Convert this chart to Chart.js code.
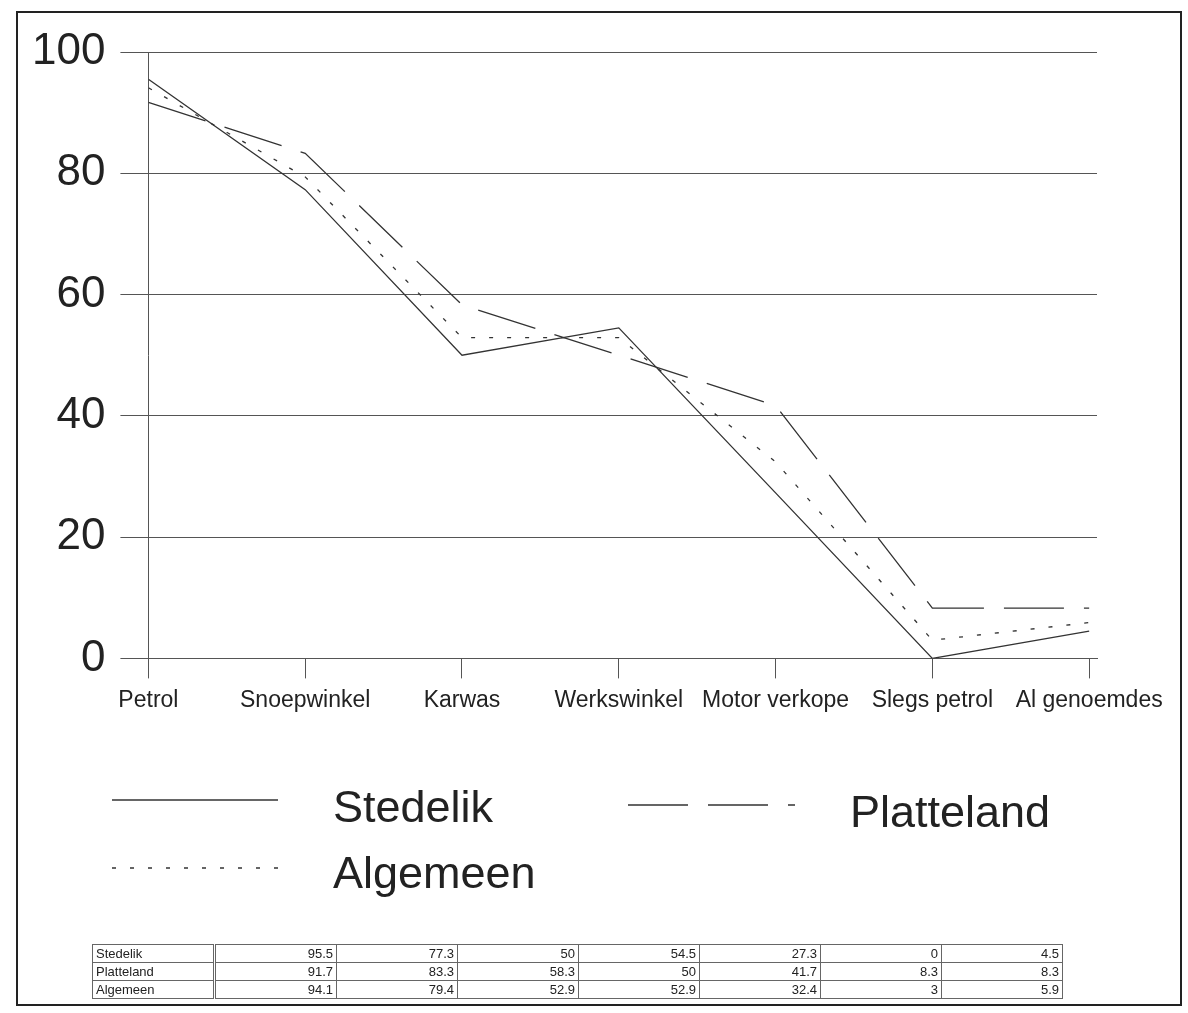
<!DOCTYPE html>
<html>
<head>
<meta charset="utf-8">
<script src="https://cdn.jsdelivr.net/npm/chart.js@4"></script>
<style>
  html, body { margin: 0; padding: 0; background: #fff; }
  body { width: 1188px; height: 1013px; position: relative; overflow: hidden; font-family: 'Liberation Sans', Arial, sans-serif; color: #222; }
  #frame { position: absolute; left: 16px; top: 11px; width: 1162px; height: 991px; border: 2px solid #222; }
  #chartBox { position: absolute; left: 0; top: 0; width: 1188px; height: 722px; }
  #legend { position: absolute; left: 0; top: 0; }
  #dataTable { position: absolute; left: 92px; top: 944px; border-collapse: collapse; font-size: 13px; color: #222; }
  #dataTable td { border: 1px solid #666; height: 17px; padding: 0 3px; line-height: 17px; }
  #dataTable td.name { width: 114px; text-align: left; border-right: 3px double #666; }
  #dataTable td.num { width: 114px; text-align: right; }
</style>
</head>
<body>
<div id="frame"></div>
<div id="chartBox"><canvas id="lineChart"></canvas></div>
<svg id="legend" width="1188" height="1013"></svg>
<table id="dataTable"></table>
<script>
  const categories = ['Petrol', 'Snoepwinkel', 'Karwas', 'Werkswinkel', 'Motor verkope', 'Slegs petrol', 'Al genoemdes'];
  const stedelik = [95.5, 77.3, 50, 54.5, 27.3, 0, 4.5];
  const platteland = [91.7, 83.3, 58.3, 50, 41.7, 8.3, 8.3];
  const algemeen = [94.1, 79.4, 52.9, 52.9, 32.4, 3, 5.9];
  const yTicks = [0, 20, 40, 60, 80, 100];

  const lineColor = '#333';
  const fontFamily = "'Liberation Sans', Arial, sans-serif";

  const series = [
    { label: 'Stedelik', values: stedelik, dash: [] },
    { label: 'Platteland', values: platteland, dash: [60, 20] },
    { label: 'Algemeen', values: algemeen, dash: [4, 14] }
  ];

  new Chart(document.getElementById('lineChart'), {
    type: 'line',
    data: {
      datasets: series.map((s) => ({
        label: s.label,
        data: s.values.map((v, i) => ({ x: i, y: v })),
        borderColor: lineColor,
        borderWidth: 1.3,
        borderDash: s.dash,
        pointRadius: 0,
        tension: 0,
        fill: false
      }))
    },
    options: {
      responsive: true,
      maintainAspectRatio: false,
      animation: false,
      layout: { padding: { left: 17, right: 91, top: 52, bottom: 0 } },
      plugins: {
        legend: { display: false },
        tooltip: { enabled: false }
      },
      scales: {
        x: {
          type: 'linear',
          min: 0,
          max: 6.05,
          afterBuildTicks: (scale) => { scale.ticks = categories.map((c, i) => ({ value: i })); },
          ticks: {
            autoSkip: false,
            maxRotation: 0,
            padding: 8,
            color: '#222',
            font: { family: fontFamily, size: 23 },
            callback: (v) => categories[v]
          },
          grid: {
            drawOnChartArea: false,
            drawTicks: true,
            tickLength: 20,
            color: '#555'
          },
          border: { display: true, color: '#555' }
        },
        y: {
          min: 0,
          max: 100,
          afterBuildTicks: (scale) => { scale.ticks = yTicks.map((v) => ({ value: v })); },
          ticks: {
            padding: 15,
            color: '#222',
            font: { family: fontFamily, size: 44 }
          },
          grid: {
            color: '#555',
            lineWidth: 1,
            tickLength: 28
          },
          border: { display: true, color: '#555' }
        }
      }
    }
  });

  // legend, laid out like the original page
  const legendSpots = [
    { x1: 112, x2: 278, y: 800, tx: 333, ty: 822 },
    { x1: 628, x2: 795, y: 805, tx: 850, ty: 827 },
    { x1: 112, x2: 278, y: 868, tx: 333, ty: 888 }
  ];
  const svg = document.getElementById('legend');
  let legendHtml = '';
  series.forEach((s, i) => {
    const p = legendSpots[i];
    legendHtml += `<line x1="${p.x1}" y1="${p.y}" x2="${p.x2}" y2="${p.y}" stroke="${lineColor}" stroke-width="1.3" stroke-dasharray="${s.dash.length ? s.dash.join(' ') : 'none'}"/>`;
    legendHtml += `<text x="${p.tx}" y="${p.ty}" font-family="${fontFamily.replace(/'/g, '')}" font-size="45" fill="#222">${s.label}</text>`;
  });
  svg.innerHTML = legendHtml;

  // data table under the chart
  const table = document.getElementById('dataTable');
  table.innerHTML = series.map((s) =>
    '<tr><td class="name">' + s.label + '</td>' +
    s.values.map((v) => '<td class="num">' + v + '</td>').join('') + '</tr>'
  ).join('');
</script>
</body>
</html>
